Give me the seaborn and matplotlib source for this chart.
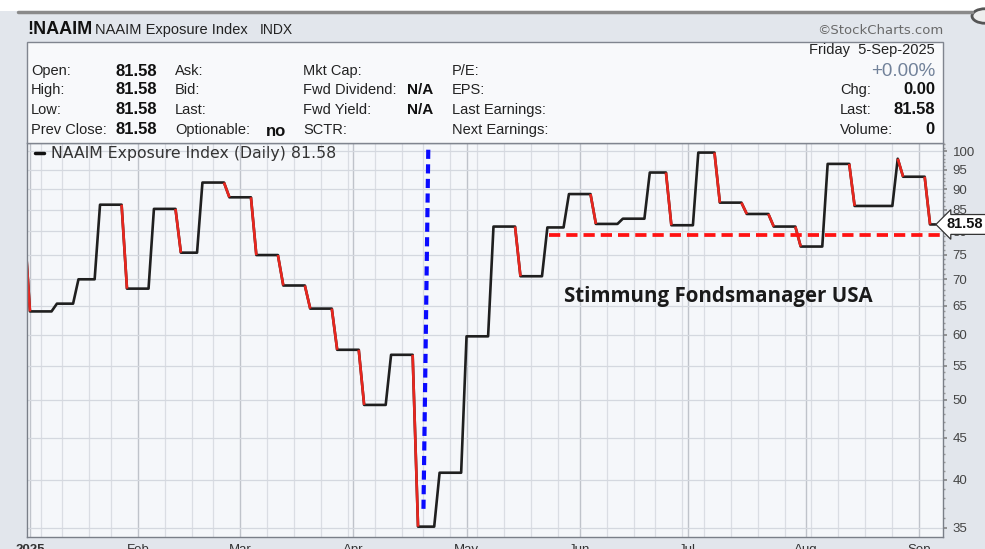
#NAAIM EXPOSURE INDEX - STOCKCHARTS STYLE
import numpy as np
import pandas as pd
import matplotlib
matplotlib.use("Agg")
import matplotlib.pyplot as plt
import matplotlib.ticker as mticker
import matplotlib.transforms as mtransforms
from matplotlib.patches import Rectangle, Circle
from matplotlib.lines import Line2D
import seaborn as sns

# weekly readings, date = first trading day the new value is shown
change_dates = ["2024-12-31", "2025-01-02", "2025-01-10", "2025-01-16", "2025-01-23",
                "2025-01-30", "2025-02-06", "2025-02-13", "2025-02-20", "2025-02-27",
                "2025-03-06", "2025-03-13", "2025-03-20", "2025-03-27", "2025-04-03",
                "2025-04-10", "2025-04-17", "2025-04-24", "2025-05-01", "2025-05-08",
                "2025-05-15", "2025-05-22", "2025-05-29", "2025-06-05", "2025-06-12",
                "2025-06-20", "2025-06-26", "2025-07-03", "2025-07-10", "2025-07-17",
                "2025-07-24", "2025-07-31", "2025-08-07", "2025-08-14", "2025-08-26",
                "2025-08-27", "2025-09-04"]
naaim = [80.7, 64.0, 65.4, 70.0, 86.2,
         68.2, 85.2, 75.4, 91.7, 88.0,
         74.9, 68.8, 64.5, 57.5, 49.3,
         56.7, 35.1, 40.8, 59.7, 81.1,
         70.6, 80.9, 88.8, 81.7, 82.9,
         94.3, 81.4, 99.7, 86.7, 84.0,
         81.1, 76.7, 96.6, 85.9, 98.0,
         93.2, 81.58]

market_holidays = ["2025-01-01", "2025-01-09", "2025-01-20", "2025-02-17", "2025-04-18",
                   "2025-05-26", "2025-06-19", "2025-07-04", "2025-09-01"]

month_labels = ["2025", "Feb", "Mar", "Apr", "May", "Jun", "Jul", "Aug", "Sep"]
y_ticks = [35, 40, 45, 50, 55, 60, 65, 70, 75, 80, 85, 90, 95, 100]

# hand drawn marks on the chart
support_level = 79.2
support_start = "2025-05-22"
crash_marker_day = "2025-04-21"
crash_marker_top = 100.5
crash_marker_bottom = 36.5
note_text = "Stimmung Fondsmanager USA"
note_day = "2025-05-28"
note_level = 66.7

# trading day axis like stockcharts
days = pd.bdate_range("2024-12-31", "2025-09-05")
days = days[~days.isin(pd.to_datetime(market_holidays))]
daily = pd.Series(naaim, index=pd.to_datetime(change_dates)).reindex(days, method="ffill")
df = pd.DataFrame({"pos": np.arange(len(days)) - 1, "value": daily.values})
pos_of = dict(zip(days, df["pos"]))

def day_pos(d):
    return pos_of[pd.Timestamp(d)]

month_start = [p for i, (d, p) in enumerate(zip(days, df["pos"]))
               if i > 0 and d.month != days[i - 1].month]
week_start = [p for i, (d, p) in enumerate(zip(days, df["pos"]))
              if i > 0 and d.weekday() < days[i - 1].weekday()]

#--------------------------------------------------------------------
W, H = 985, 549

def fx(x):
    return x / W

def fy(y):
    return 1 - y / H

sns.set_theme(style="white")
plt.rcParams["font.family"] = ["Liberation Sans", "DejaVu Sans"]

fig = plt.figure(figsize=(W / 100, H / 100), dpi=100, facecolor="#e2e6ec")

# page bits around the chart
fig.add_artist(Rectangle((0, fy(11)), 1, 11 / H, transform=fig.transFigure,
                         fc="white", ec="none"))
fig.add_artist(Line2D([fx(18), fx(972)], [fy(12), fy(12)], transform=fig.transFigure,
                      color="#8a8a8a", lw=2.5))
fig.add_artist(Circle((fx(985), fy(16)), 13 / W, transform=fig.transFigure,
                      fc="#eeeeee", ec="#555555", lw=2))
fig.add_artist(Rectangle((fx(27), fy(143)), 916 / W, 101 / H, transform=fig.transFigure,
                         fc="#f8f9fb", ec="#80858f", lw=1))

# header texts
fig.text(fx(27), fy(30), "!NAAIM", fontsize=13, fontweight="bold", va="center", color="#111")
fig.text(fx(95), fy(30), "NAAIM Exposure Index", fontsize=10.5, va="center", color="#222")
fig.text(fx(260), fy(30.5), "INDX", fontsize=10, va="center", color="#222")
fig.text(fx(943), fy(30), "\u00a9StockCharts.com", fontsize=9.5, va="center", ha="right",
         color="#6a6a6a", family="DejaVu Sans")

rows = [71, 90, 110, 130]
col1 = ["Open:", "High:", "Low:", "Prev Close:"]
col2 = ["Ask:", "Bid:", "Last:", "Optionable:"]
col3 = ["Mkt Cap:", "Fwd Dividend:", "Fwd Yield:", "SCTR:"]
col4 = ["P/E:", "EPS:", "Last Earnings:", "Next Earnings:"]
for r, a, b, c, d in zip(rows, col1, col2, col3, col4):
    fig.text(fx(31), fy(r), a, fontsize=10.5, va="center", color="#222")
    fig.text(fx(157), fy(r), "81.58", fontsize=12, fontweight="bold", va="center", ha="right", color="#111")
    fig.text(fx(175), fy(r), b, fontsize=10.5, va="center", color="#222")
    fig.text(fx(303), fy(r), c, fontsize=10.5, va="center", color="#222")
    fig.text(fx(452), fy(r), d, fontsize=10.5, va="center", color="#222")
fig.text(fx(286), fy(rows[3] + 1), "no", fontsize=12, fontweight="bold", va="center", ha="right", color="#111")
fig.text(fx(433), fy(rows[1]), "N/A", fontsize=11, fontweight="bold", va="center", ha="right", color="#111")
fig.text(fx(433), fy(rows[2]), "N/A", fontsize=11, fontweight="bold", va="center", ha="right", color="#111")

fig.text(fx(935), fy(50), "Friday  5-Sep-2025", fontsize=10.5, va="center", ha="right", color="#222")
fig.text(fx(935), fy(71), "+0.00%", fontsize=13.5, va="center", ha="right", color="#72829a")
for r, lab, val in zip(rows[1:], ["Chg:", "Last:", "Volume:"], ["0.00", "81.58", "0"]):
    fig.text(fx(840), fy(r), lab, fontsize=10.5, va="center", color="#222")
    fig.text(fx(935), fy(r), val, fontsize=12, fontweight="bold", va="center", ha="right", color="#111")

#--------------------------------------------------------------------
# price panel
ax = fig.add_axes([fx(27), fy(537), 916 / W, 394 / H])
ax.set_facecolor("#f5f7fa")

sns.lineplot(data=df, x="pos", y="value", color="#1f1f1f", lw=1.9, ax=ax,
             label="NAAIM Exposure Index (Daily) 81.58")
# falling days drawn red
vals = df["value"].values
pos = df["pos"].values
for i in range(1, len(df)):
    if vals[i] < vals[i - 1]:
        ax.plot([pos[i - 1], pos[i]], [vals[i - 1], vals[i]], color="#e8261e", lw=1.9,
                solid_capstyle="butt")

ax.set_yscale("log")
ax.set_ylim(34.1, 102.4)
ax.set_xlim(-0.55, 169.4)

ax.yaxis.tick_right()
ax.yaxis.set_major_locator(mticker.FixedLocator(y_ticks))
ax.yaxis.set_major_formatter(mticker.FixedFormatter([str(t) for t in y_ticks]))
ax.yaxis.set_minor_locator(mticker.FixedLocator(list(range(34, 103))))
ax.yaxis.set_minor_formatter(mticker.NullFormatter())
ax.tick_params(axis="y", which="major", length=3, pad=4, labelsize=9.5, labelcolor="#444",
               color="#888", right=True, left=False)
ax.tick_params(axis="y", which="minor", length=1.5, color="#999", right=True, left=False)

ax.xaxis.set_major_locator(mticker.FixedLocator(month_start))
ax.xaxis.set_major_formatter(mticker.FixedFormatter(month_labels))
ax.xaxis.set_minor_locator(mticker.FixedLocator(week_start))
ax.tick_params(axis="x", which="both", length=2, color="#999", pad=3, labelsize=9.5,
               labelcolor="#333")
ax.get_xticklabels()[0].set_fontweight("bold")

ax.grid(True, which="major", axis="y", color="#d4d8df", lw=0.9)
ax.grid(True, which="minor", axis="x", color="#dadde3", lw=0.9)
ax.grid(True, which="major", axis="x", color="#bfc3ca", lw=1.0)
ax.set_axisbelow(True)
ax.set_xlabel("")
ax.set_ylabel("")
for s in ax.spines.values():
    s.set_color("#7a7f88")
    s.set_linewidth(1)

leg = ax.legend(loc="upper left", bbox_to_anchor=(0.0, 1.012), frameon=False,
                handlelength=0.6, handletextpad=0.4, borderaxespad=0.1,
                prop={"family": "DejaVu Sans", "size": 11.3})
for t in leg.get_texts():
    t.set_color("#333")
for h in leg.get_lines():
    h.set_linewidth(2.5)
    h.set_color("#111")

# hand drawn marks
ax.plot([day_pos(support_start) + 0.3, 169.4], [support_level, support_level],
        color="#ff1212", lw=2.7, ls=(0, (3.0, 1.6)), zorder=5)
ax.plot([day_pos(crash_marker_day) + 0.9, day_pos(crash_marker_day)],
        [crash_marker_top, crash_marker_bottom],
        color="#0a0aff", lw=3, ls=(0, (2.2, 1.3)), zorder=5)
ax.text(day_pos(note_day), note_level, note_text, fontsize=14.8, fontweight="bold",
        family="Open Sans", color="#1a1a1a", va="center", ha="left")

# last value tag on the right axis
tr = mtransforms.blended_transform_factory(ax.transAxes, ax.transData)
ax.text(1.004, naaim[-1], "81.58", transform=tr, ha="left", va="center", fontsize=10.5,
        fontweight="bold", color="#111", clip_on=False, zorder=10,
        bbox=dict(boxstyle="larrow,pad=0.2", fc="white", ec="#333", lw=0.9))

plt.savefig("out.png", dpi=100, facecolor=fig.get_facecolor())
